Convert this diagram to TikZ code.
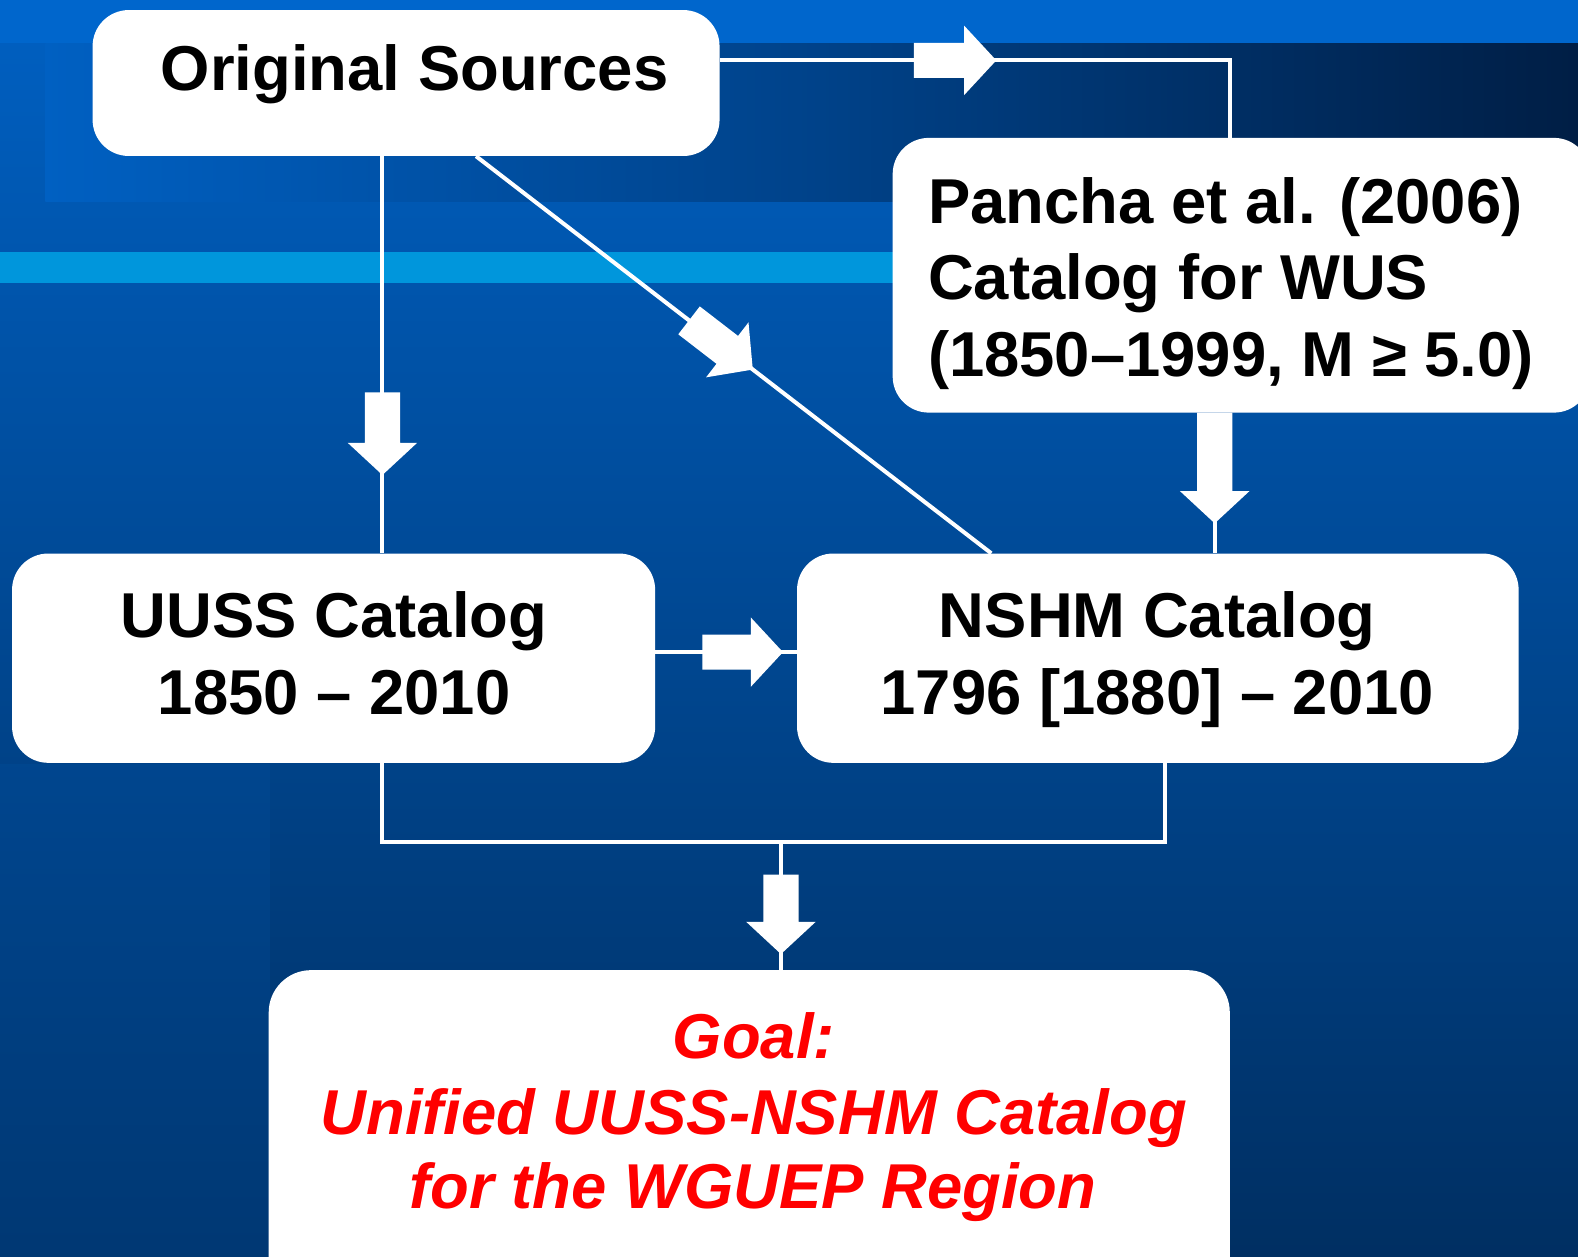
\documentclass[tikz,border=0pt]{standalone}
\usepackage{fontspec}
\setmainfont{Liberation Sans}
\usetikzlibrary{calc}
\definecolor{topblue}{HTML}{0066CC}
\definecolor{bgtop}{HTML}{0060C2}
\definecolor{bgbot}{HTML}{002F62}
\definecolor{bandlight}{HTML}{0096DC}
\definecolor{darknavy}{HTML}{001E45}
\definecolor{goalred}{HTML}{FF0000}
\tikzset{
  box/.style={draw=none, fill=white, rounded corners=36pt, inner sep=0pt},
  txt/.style={font=\fontsize{63}{76}\selectfont\bfseries, text=black, inner sep=0pt, anchor=base},
  goaltxt/.style={font=\fontsize{63}{76}\selectfont\bfseries\itshape, text=goalred, inner sep=0pt, anchor=base},
  conn/.style={draw=white, line width=4pt},
  barrow/.pic={\fill[white] (0,0) -- (-32,34.5) -- (-32,17.5) -- (-32-#1,17.5) -- (-32-#1,-17.5) -- (-32,-17.5) -- (-32,-34.5) -- cycle;}
}
\begin{document}
\begin{tikzpicture}[x=1pt,y=-1pt]
\useasboundingbox (0,0) rectangle (1568,1249);
\clip (0,0) rectangle (1568,1249);
% background
\shade[top color=bgtop, bottom color=bgbot] (0,0) rectangle (1568,1249);
\shade[top color=bgtop!46!bgbot, bottom color=bgbot!82!bgtop] (0,760) rectangle (268,1249);
\shade[left color=bgtop, right color=darknavy, middle color=bgtop!55!darknavy] (45,43) rectangle (1568,200);
\fill[topblue] (0,0) rectangle (1568,43);
\fill[bandlight] (0,250) rectangle (887,281);
% boxes
\node[box, minimum width=623pt, minimum height=145pt] (os) at (403.5,82.5) {};
\node[box, minimum width=693pt, minimum height=273pt] (pa) at (1233.5,273.5) {};
\node[box, minimum width=639pt, minimum height=208pt] (uu) at (331.5,654) {};
\node[box, minimum width=717pt, minimum height=208pt] (ns) at (1150.5,654) {};
\node[box, minimum width=955pt, minimum height=326pt, rounded corners=42pt] (go) at (744.5,1127) {};
% connectors
\draw[conn] ([yshift=22.5pt]os.east) -| ([xshift=-11.5pt]pa.north);
\draw[conn] ([xshift=-23.5pt]os.south) -- ([xshift=48.5pt]uu.north);
\draw[conn] ([xshift=69.5pt]os.south) -- ([xshift=-165.5pt]ns.north);
\draw[conn] ([xshift=-26.5pt]pa.south) -- ([xshift=56.5pt]ns.north);
\draw[conn] ([yshift=6pt]uu.east) -- ([yshift=6pt]ns.west);
\coordinate (jn) at (776,837);
\draw[conn] ([xshift=48.5pt]uu.south) |- (jn) -| ([xshift=7.5pt]ns.south);
\draw[conn] (jn) -- ([xshift=31.5pt]go.north);
% block arrows
\pic at (990,60) {barrow=50};
\pic[rotate=-90] at (380,472) {barrow=50};
\pic[rotate=-37.65] at (748,367.2) {barrow=48};
\pic[rotate=-90] at (1207,520) {barrow=78};
\pic at (778,648) {barrow=48};
\pic[rotate=-90] at (776,948) {barrow=47};
% texts
\node[txt] (t1) at (412,90) {Original Sources};
\node[txt, anchor=base west] (t2) at (922,222) {Pancha et al. (2006)};
\node[txt, anchor=base west] (t3) at (922,298) {Catalog for WUS};
\node[txt, anchor=base west] (t4) at (922,374) {(1850–1999, M ≥ 5.0)};
\node[txt] (t5) at (332,633) {UUSS Catalog};
\node[txt] (t6) at (332,710) {1850 – 2010};
\node[txt] (t7) at (1150,633) {NSHM Catalog};
\node[txt] (t8) at (1150,710) {1796 [1880] – 2010};
\node[goaltxt] (t9) at (749,1052) {Goal:};
\node[goaltxt] (t10) at (749,1127) {Unified UUSS-NSHM Catalog};
\node[goaltxt] (t11) at (748,1201) {for the WGUEP Region};
\end{tikzpicture}
\end{document}
